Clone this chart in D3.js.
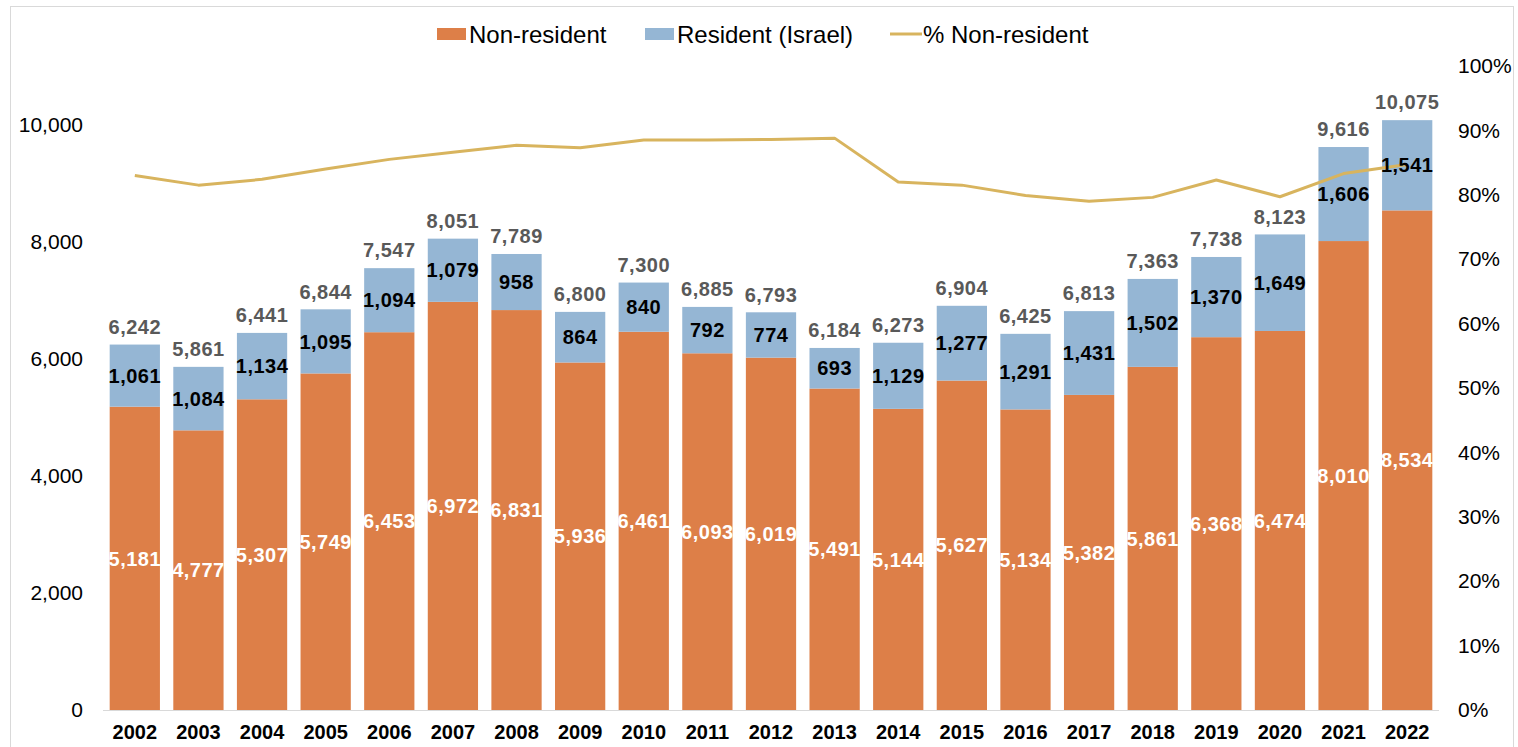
<!DOCTYPE html>
<html>
<head>
<meta charset="utf-8">
<script src="https://cdn.jsdelivr.net/npm/d3@7"></script>
<style>
  html, body { margin: 0; padding: 0; background: #fff; }
  svg { display: block; font-family: "Liberation Sans", Arial, sans-serif; }
</style>
</head>
<body>
<div id="chart"></div>
<script>
// stacked bars + % line, two axes
const years = ["2002","2003","2004","2005","2006","2007","2008","2009","2010","2011","2012",
               "2013","2014","2015","2016","2017","2018","2019","2020","2021","2022"];
const nonResident = [5181,4777,5307,5749,6453,6972,6831,5936,6461,6093,6019,
                     5491,5144,5627,5134,5382,5861,6368,6474,8010,8534];
const resident = [1061,1084,1134,1095,1094,1079,958,864,840,792,774,
                  693,1129,1277,1291,1431,1502,1370,1649,1606,1541];
const totals = [6242,5861,6441,6844,7547,8051,7789,6800,7300,6885,6793,
                6184,6273,6904,6425,6813,7363,7738,8123,9616,10075];
const pctNonResident = [0.830,0.815,0.824,0.840,0.855,0.866,0.877,0.873,0.885,0.885,0.886,
                        0.888,0.820,0.815,0.799,0.790,0.796,0.823,0.797,0.833,0.847];
const leftTicks = [0,2000,4000,6000,8000,10000];
const rightTicks = [0,0.1,0.2,0.3,0.4,0.5,0.6,0.7,0.8,0.9,1];

const ORANGE = "#dd7f48";
const BLUE = "#95b6d4";
const GOLD = "#d8b45e";

const width = 1518, height = 747;
const plot = { left: 103, right: 1439, top: 66, bottom: 710 };

const svg = d3.select("#chart").append("svg")
    .attr("width", width)
    .attr("height", height);

// outer frame
svg.append("rect")
    .attr("x", 10.5).attr("y", 6.5)
    .attr("width", 1503).attr("height", 760)
    .attr("fill", "none")
    .attr("stroke", "#d9d9d9")
    .attr("stroke-width", 1);

const x = d3.scaleBand()
    .domain(years)
    .range([plot.left, plot.right])
    .paddingInner(0.21)
    .paddingOuter(0.105);

const y = d3.scaleLinear().domain([0, 11000]).range([plot.bottom, plot.top]);
const y2 = d3.scaleLinear().domain([0, 1]).range([plot.bottom, plot.top]);

const rows = years.map((yr, i) => ({
    year: yr, non: nonResident[i], res: resident[i], total: totals[i], pct: pctNonResident[i]
}));

// bars
const bars = svg.append("g");
bars.selectAll("rect.non")
    .data(rows).enter().append("rect")
    .attr("class", "non")
    .attr("x", d => x(d.year))
    .attr("width", x.bandwidth())
    .attr("y", d => y(d.non))
    .attr("height", d => y(0) - y(d.non))
    .attr("fill", ORANGE);

bars.selectAll("rect.res")
    .data(rows).enter().append("rect")
    .attr("class", "res")
    .attr("x", d => x(d.year))
    .attr("width", x.bandwidth())
    .attr("y", d => y(d.non + d.res))
    .attr("height", d => y(d.non) - y(d.non + d.res))
    .attr("fill", BLUE);

// x axis line
svg.append("line")
    .attr("x1", plot.left).attr("x2", plot.right)
    .attr("y1", plot.bottom + 0.5).attr("y2", plot.bottom + 0.5)
    .attr("stroke", "#d9d9d9").attr("stroke-width", 1);

// left axis
const leftAxis = svg.append("g")
    .attr("transform", `translate(${plot.left - 20},0)`)
    .call(d3.axisLeft(y).tickValues(leftTicks).tickSize(0).tickPadding(0).tickFormat(d3.format(",")));
leftAxis.select(".domain").remove();
leftAxis.selectAll("text")
    .style("font-size", "21px")
    .style("font-family", "Liberation Sans, Arial, sans-serif")
    .attr("fill", "#000");

// right axis
const rightAxis = svg.append("g")
    .attr("transform", `translate(${plot.right + 19},0)`)
    .call(d3.axisRight(y2).tickValues(rightTicks).tickSize(0).tickPadding(0).tickFormat(d3.format(".0%")));
rightAxis.select(".domain").remove();
rightAxis.selectAll("text")
    .style("font-size", "21px")
    .style("font-family", "Liberation Sans, Arial, sans-serif")
    .attr("fill", "#000");

// year labels
const bottomAxis = svg.append("g")
    .attr("transform", `translate(0,${plot.bottom})`)
    .call(d3.axisBottom(x).tickSize(0).tickPadding(15));
bottomAxis.select(".domain").remove();
bottomAxis.selectAll("text")
    .style("font-size", "20px")
    .style("font-weight", "bold")
    .style("font-family", "Liberation Sans, Arial, sans-serif")
    .attr("fill", "#000");

// % line
const line = d3.line()
    .x(d => x(d.year) + x.bandwidth() / 2)
    .y(d => y2(d.pct));
svg.append("path")
    .datum(rows)
    .attr("d", line)
    .attr("fill", "none")
    .attr("stroke", GOLD)
    .attr("stroke-width", 3)
    .attr("stroke-linejoin", "round");

// data labels
const labels = svg.append("g")
    .style("font-size", "20px")
    .style("font-weight", "bold")
    .style("letter-spacing", "0.5px")
    .attr("text-anchor", "middle");

labels.selectAll("text.nonlbl")
    .data(rows).enter().append("text")
    .attr("x", d => x(d.year) + x.bandwidth() / 2)
    .attr("y", d => (y(0) + y(d.non)) / 2)
    .attr("dy", "0.36em")
    .attr("fill", "#fff")
    .text(d => d3.format(",")(d.non));

labels.selectAll("text.reslbl")
    .data(rows).enter().append("text")
    .attr("x", d => x(d.year) + x.bandwidth() / 2)
    .attr("y", d => (y(d.non) + y(d.non + d.res)) / 2)
    .attr("dy", "0.36em")
    .attr("fill", "#000")
    .text(d => d3.format(",")(d.res));

labels.selectAll("text.totlbl")
    .data(rows).enter().append("text")
    .attr("x", d => x(d.year) + x.bandwidth() / 2)
    .attr("y", d => y(d.total) - 18)
    .attr("dy", "0.36em")
    .attr("fill", "#595959")
    .text(d => d3.format(",")(d.total));

// legend
const legendItems = [
    { label: "Non-resident", type: "box", color: ORANGE, x: 437 },
    { label: "Resident (Israel)", type: "box", color: BLUE, x: 645 },
    { label: "% Non-resident", type: "line", color: GOLD, x: 890 }
];
const legend = svg.append("g").attr("transform", "translate(0,34)");
legendItems.forEach(it => {
    const g = legend.append("g").attr("transform", `translate(${it.x},0)`);
    if (it.type === "box") {
        g.append("rect").attr("x", 0).attr("y", -6).attr("width", 29).attr("height", 12).attr("fill", it.color);
    } else {
        g.append("line").attr("x1", 0).attr("x2", 32).attr("y1", 0).attr("y2", 0)
            .attr("stroke", it.color).attr("stroke-width", 3);
    }
    g.append("text")
        .attr("x", it.type === "box" ? 32 : 33).attr("y", 0).attr("dy", "0.36em")
        .style("font-size", "24px")
        .attr("fill", "#000")
        .text(it.label);
});
</script>
</body>
</html>
